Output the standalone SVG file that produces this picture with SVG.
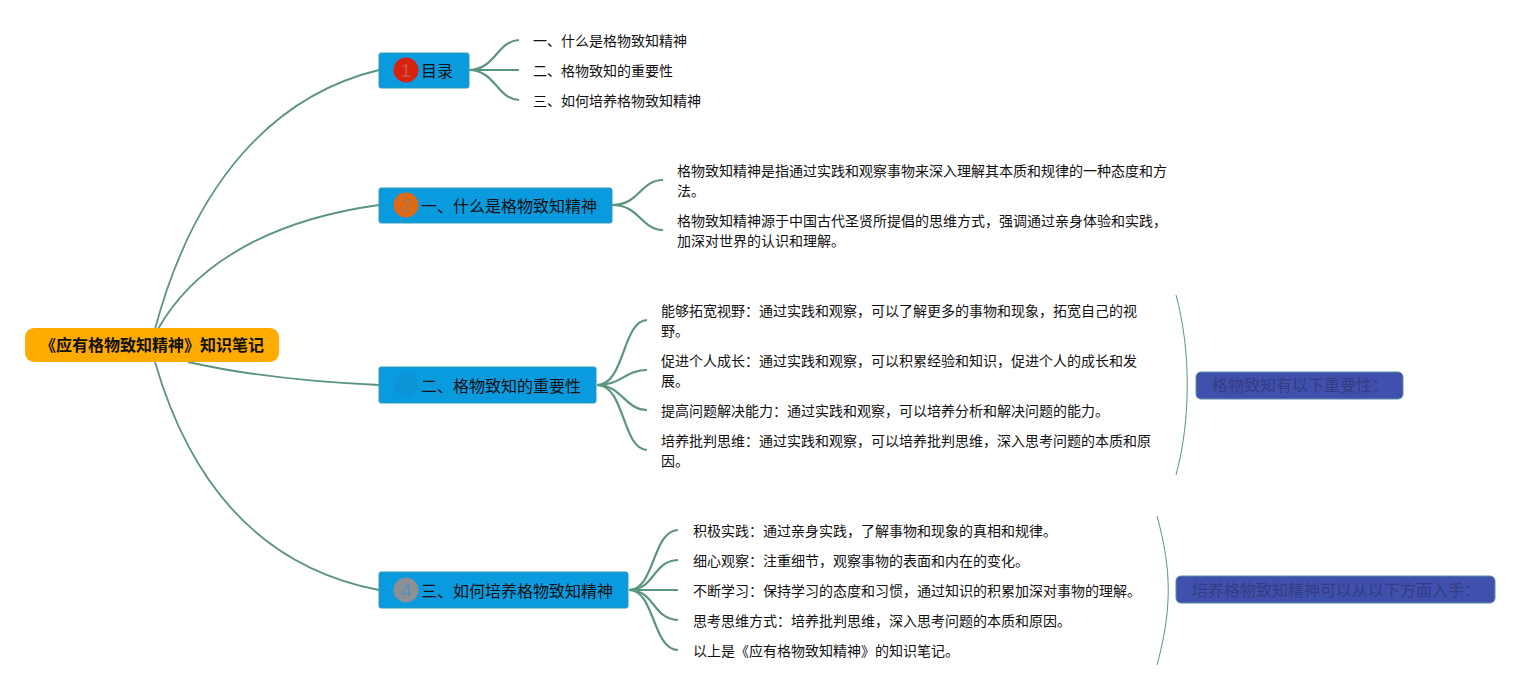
<svg xmlns="http://www.w3.org/2000/svg" width="1540" height="690" viewBox="0 0 1540 690">
<style>
text{font-family:"Noto Sans CJK SC","Liberation Sans",sans-serif;fill:#111;}
.t{font-size:14px;}
.m{font-size:16px;}
.r{font-size:16px;font-weight:700;}
.n{font-size:16px;fill:#363c84;}
.badge{font-size:19px;font-family:"Liberation Sans",sans-serif;text-anchor:middle;}
.box{fill:#0a9bdf;stroke:#2f9bb5;stroke-width:1;}
.sum{fill:#3f51ad;stroke:#5b8fa8;stroke-width:1;}
#connectors path{fill:none;stroke:#5b9580;stroke-width:2.2;}
#connectors path.thin{stroke-width:1.8;}
#connectors path.br{stroke-width:1;}
</style>
<rect width="1540" height="690" fill="#fff"/>
<g id="connectors">
<path class="thin" d="M155 329C195 180 275 95 379 70"/>
<path class="thin" d="M158 329C200 255 285 218 379 205"/>
<path class="thin" d="M188 362C250 376 310 382 379 385"/>
<path class="thin" d="M155 362C195 500 275 570 379 590"/>
<path d="M469 70C495 70 497 41 519 40"/>
<path d="M469 70H519"/>
<path d="M469 70C495 70 497 99 519 100"/>
<path d="M612 205C640 205 640 180 663 180"/>
<path d="M612 205C640 205 640 229 663 230"/>
<path d="M597 385C625 385 622 321 647 320"/>
<path d="M597 385C622 385 625 370 647 370"/>
<path d="M597 385C622 385 625 410 647 410"/>
<path d="M597 385C625 385 622 449 647 450"/>
<path d="M629 590C655 590 652 531 678 530"/>
<path d="M629 590C655 590 652 561 678 560"/>
<path d="M629 590H678"/>
<path d="M629 590C655 590 652 619 678 620"/>
<path d="M629 590C655 590 652 649 678 650"/>
<path class="br" d="M1176 295C1191 350 1191 420 1176 475"/>
<path class="br" d="M1157 516C1172 570 1172 610 1157 665"/>
</g>
<g id="root"><rect x="25" y="328" width="254" height="34" rx="9" fill="#ffab00"/><text class="r" x="40" y="351">《应有格物致知精神》知识笔记</text></g>
<g id="n1"><rect class="box" x="379" y="53" width="90" height="35" rx="2"/><circle cx="406" cy="70" r="12.5" fill="#d9210f"/><text class="badge" x="406" y="76.500" style="fill:#c9574a">1</text><text class="m" x="421" y="77">目录</text></g>
<g id="n2"><rect class="box" x="379" y="188" width="233" height="35" rx="2"/><circle cx="406" cy="205" r="12.5" fill="#e06a14"/><text class="badge" x="406" y="211.500" style="fill:#a9784d">2</text><text class="m" x="421" y="212">一、什么是格物致知精神</text></g>
<g id="n3"><rect class="box" x="379" y="367" width="217" height="36" rx="2"/><circle cx="406" cy="385" r="12.5" fill="#0d93d8"/><text class="m" x="421" y="392">二、格物致知的重要性</text></g>
<g id="n4"><rect class="box" x="379" y="572" width="249" height="36" rx="2"/><circle cx="406" cy="590" r="12.5" fill="#8d8f94"/><text class="badge" x="406" y="596.500" style="fill:#4f91bd">4</text><text class="m" x="421" y="597">三、如何培养格物致知精神</text></g>
<g id="n1a"><text class="t" x="533" y="46">一、什么是格物致知精神</text></g>
<g id="n1b"><text class="t" x="533" y="76">二、格物致知的重要性</text></g>
<g id="n1c"><text class="t" x="533" y="106">三、如何培养格物致知精神</text></g>
<g id="n2a"><text class="t" x="677" y="176">格物致知精神是指通过实践和观察事物来深入理解其本质和规律的一种态度和方</text><text class="t" x="677" y="196">法。</text></g>
<g id="n2b"><text class="t" x="677" y="226">格物致知精神源于中国古代圣贤所提倡的思维方式，强调通过亲身体验和实践，</text><text class="t" x="677" y="246">加深对世界的认识和理解。</text></g>
<g id="n3a"><text class="t" x="661" y="316">能够拓宽视野：通过实践和观察，可以了解更多的事物和现象，拓宽自己的视</text><text class="t" x="661" y="336">野。</text></g>
<g id="n3b"><text class="t" x="661" y="366">促进个人成长：通过实践和观察，可以积累经验和知识，促进个人的成长和发</text><text class="t" x="661" y="386">展。</text></g>
<g id="n3c"><text class="t" x="661" y="416">提高问题解决能力：通过实践和观察，可以培养分析和解决问题的能力。</text></g>
<g id="n3d"><text class="t" x="661" y="446">培养批判思维：通过实践和观察，可以培养批判思维，深入思考问题的本质和原</text><text class="t" x="661" y="466">因。</text></g>
<g id="n4a"><text class="t" x="693" y="536">积极实践：通过亲身实践，了解事物和现象的真相和规律。</text></g>
<g id="n4b"><text class="t" x="693" y="566">细心观察：注重细节，观察事物的表面和内在的变化。</text></g>
<g id="n4c"><text class="t" x="693" y="596">不断学习：保持学习的态度和习惯，通过知识的积累加深对事物的理解。</text></g>
<g id="n4d"><text class="t" x="693" y="626">思考思维方式：培养批判思维，深入思考问题的本质和原因。</text></g>
<g id="n4e"><text class="t" x="693" y="656">以上是《应有格物致知精神》的知识笔记。</text></g>
<g id="s1"><rect class="sum" x="1196" y="372" width="207" height="27" rx="5"/><text class="n" x="1212" y="391">格物致知有以下重要性：</text></g>
<g id="s2"><rect class="sum" x="1176" y="576" width="319" height="27" rx="5"/><text class="n" x="1192" y="596">培养格物致知精神可以从以下方面入手：</text></g>
</svg>
